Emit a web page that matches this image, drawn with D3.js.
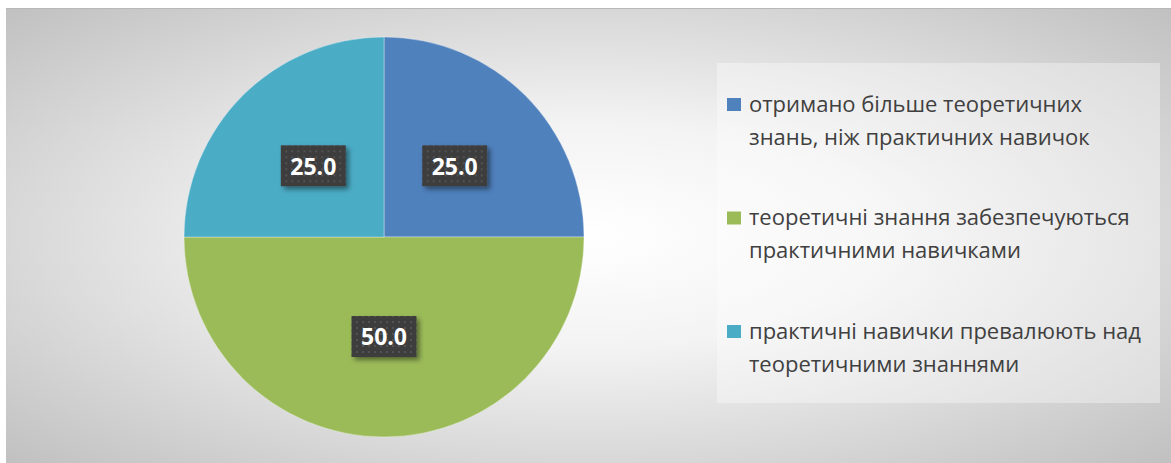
<!DOCTYPE html>
<html>
<head>
<meta charset="utf-8">
<script src="https://cdn.jsdelivr.net/npm/d3@7"></script>
<style>
  html, body { margin: 0; padding: 0; background: #fff; }
  #chart { width: 1171px; height: 463px; }
</style>
</head>
<body>
<div id="chart"></div>
<script>
// chart data
const categories = [
    "отримано більше теоретичних знань, ніж практичних навичок",
    "теоретичні знання забезпечуються практичними навичками",
    "практичні навички превалюють над теоретичними знаннями"
];
const legendLines = [
    ["отримано більше теоретичних", "знань, ніж практичних навичок"],
    ["теоретичні знання забезпечуються", "практичними навичками"],
    ["практичні навички превалюють над", "теоретичними знаннями"]
];
const values = [25.0, 50.0, 25.0];
const colors = ["#4F81BD", "#9BBB59", "#4BACC6"];

let width = 1171, height = 463;

let svg = d3.select("#chart").append("svg")
    .attr("width", width)
    .attr("height", height);

let defs = svg.append("defs");

// background gradient
let grad = defs.append("radialGradient")
    .attr("id", "bg")
    .attr("cx", "50%").attr("cy", "50%").attr("r", "71%");
grad.append("stop").attr("offset", "0%").attr("stop-color", "#ffffff");
grad.append("stop").attr("offset", "35%").attr("stop-color", "#f3f3f3");
grad.append("stop").attr("offset", "100%").attr("stop-color", "#c0c0c0");

// dotted pattern for the data labels
let pat = defs.append("pattern")
    .attr("id", "dots")
    .attr("width", 6).attr("height", 6)
    .attr("patternUnits", "userSpaceOnUse");
pat.append("rect").attr("width", 6).attr("height", 6).attr("fill", "#3d3d3d");
pat.append("rect").attr("x", 2).attr("y", 2).attr("width", 2).attr("height", 2).attr("fill", "#525252");

let shadow = defs.append("filter").attr("id", "shadow")
    .attr("x", "-20%").attr("y", "-20%").attr("width", "150%").attr("height", "150%");
shadow.append("feDropShadow")
    .attr("dx", 3).attr("dy", 3).attr("stdDeviation", 2.5)
    .attr("flood-color", "#000").attr("flood-opacity", 0.45);

// chart area
svg.append("rect")
    .attr("x", 6).attr("y", 8)
    .attr("width", width - 6).attr("height", height - 8)
    .attr("fill", "url(#bg)");
svg.append("line")
    .attr("x1", 6).attr("x2", width).attr("y1", 8.5).attr("y2", 8.5)
    .attr("stroke", "#b8b8b8").attr("stroke-width", 1);

// pie
let cx = 384, cy = 237, radius = 200;

let pie = d3.pie().sort(null).value(d => d);
let arc = d3.arc().innerRadius(0).outerRadius(radius);
let arcs = pie(values);

let g = svg.append("g").attr("transform", `translate(${cx}, ${cy})`);

g.selectAll("path.slice")
    .data(arcs)
    .enter()
    .append("path")
    .attr("class", "slice")
    .attr("d", arc)
    .attr("fill", (d, i) => colors[i])
    .attr("stroke", "#ffffff")
    .attr("stroke-opacity", 0.35)
    .attr("stroke-width", 1);

// data labels
let fmt = d3.format(".1f");
let labels = g.selectAll("g.label")
    .data(arcs)
    .enter()
    .append("g")
    .attr("class", "label")
    .attr("transform", d => `translate(${arc.centroid(d)})`);

labels.append("rect")
    .attr("x", -32.5).attr("y", -21)
    .attr("width", 65).attr("height", 41)
    .attr("fill", "url(#dots)")
    .attr("filter", "url(#shadow)");

labels.append("text")
    .attr("text-anchor", "middle")
    .attr("dy", "0.36em")
    .attr("fill", "#ffffff")
    .style("font-family", "'Open Sans', sans-serif")
    .style("font-weight", "bold")
    .style("font-size", "23px")
    .text(d => fmt(d.data));

// legend
svg.append("rect")
    .attr("x", 717).attr("y", 63)
    .attr("width", 443).attr("height", 340)
    .attr("fill", "#ffffff")
    .attr("fill-opacity", 0.35);

let legendY = d3.scalePoint()
    .domain(categories)
    .range([104, 331]);

let items = svg.selectAll("g.legend")
    .data(categories)
    .enter()
    .append("g")
    .attr("class", "legend")
    .attr("transform", d => `translate(727, ${legendY(d)})`);

items.append("rect")
    .attr("x", 0).attr("y", -6)
    .attr("width", 14).attr("height", 13)
    .attr("fill", (d, i) => colors[i]);

items.each(function(d, i) {
    let t = d3.select(this).append("text")
        .attr("x", 22)
        .attr("fill", "#404040")
        .style("font-family", "'Open Sans', sans-serif")
        .style("font-size", "22px");
    legendLines[i].forEach((line, j) => {
        t.append("tspan")
            .attr("x", 22)
            .attr("y", j * 33)
            .attr("dy", "0.35em")
            .text(line);
    });
});
</script>
</body>
</html>
